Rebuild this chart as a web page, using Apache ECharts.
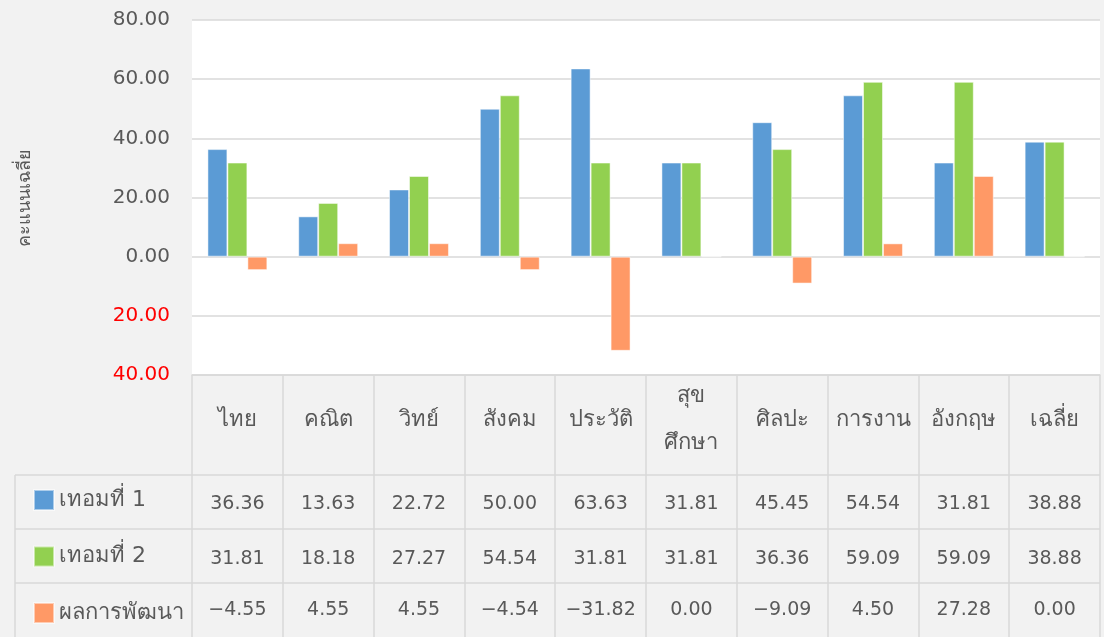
<!DOCTYPE html>
<html>
<head>
<meta charset="utf-8">
<title>คะแนนเฉลี่ย</title>
<script src="https://cdn.jsdelivr.net/npm/echarts@6/dist/echarts.min.js"></script>
<style>
  html, body { margin: 0; padding: 0; background: #f2f2f2; }
  #chart { width: 1104px; height: 637px; }
</style>
</head>
<body>
<div id="chart"></div>
<script>
// Subjects (column headers of the data table)
const categories = ['ไทย', 'คณิต', 'วิทย์', 'สังคม', 'ประวัติ', 'สุข\nศึกษา', 'ศิลปะ', 'การงาน', 'อังกฤษ', 'เฉลี่ย'];
const seriesNames = ['เทอมที่ 1', 'เทอมที่ 2', 'ผลการพัฒนา'];
const term1 = [36.36, 13.63, 22.72, 50.00, 63.63, 31.81, 45.45, 54.54, 31.81, 38.88];
const term2 = [31.81, 18.18, 27.27, 54.54, 31.81, 31.81, 36.36, 59.09, 59.09, 38.88];
const progress = [-4.55, 4.55, 4.55, -4.54, -31.82, 0.00, -9.09, 4.50, 27.28, 0.00];
const yTicks = { min: -40, max: 80, interval: 20 };

const colors = ['#5b9bd5', '#92d050', '#ff9966'];
const textColor = '#595959';
const lineColor = '#d9d9d9';
const font = 'Tahoma, "DejaVu Sans", "Noto Sans", sans-serif';

// Layout of plot area and table rows
const gridLeft = 192, gridRight = 4, gridTop = 20, gridBottom = 262;
const W = 1104, H = 637;
const rowLines = [475, 529, 583];          // horizontal rules of the value rows
const legendLeft = 15;

function fmtCell(v) {
  return (v < 0 ? '\u2212' : '') + Math.abs(v).toFixed(2);
}

// One category axis per table row, each only drawing its labels
function rowAxis(values, margin) {
  return {
    type: 'category',
    data: categories,
    position: 'bottom',
    axisLine: { show: false },
    axisTick: { show: false },
    axisLabel: {
      interval: 0,
      margin: margin,
      verticalAlign: 'middle',
      color: textColor,
      fontFamily: font,
      fontSize: 19,
      formatter: (val, idx) => fmtCell(values[idx])
    }
  };
}

const chart = echarts.init(document.getElementById('chart'), null, { renderer: 'canvas' });

const graphics = [];
rowLines.forEach(y => {
  graphics.push({
    type: 'line', silent: true, z: 5,
    shape: { x1: legendLeft, y1: y, x2: W - gridRight, y2: y },
    style: { stroke: lineColor, lineWidth: 1.5 }
  });
});
graphics.push({
  type: 'line', silent: true, z: 5,
  shape: { x1: legendLeft, y1: rowLines[0], x2: legendLeft, y2: H },
  style: { stroke: lineColor, lineWidth: 1.5 }
});

const barStyle = { borderColor: 'rgba(255,255,255,0.5)', borderWidth: 1 };

chart.setOption({
  backgroundColor: '#f2f2f2',
  animation: false,
  color: colors,
  grid: {
    left: gridLeft, right: gridRight, top: gridTop, bottom: gridBottom,
    show: true, backgroundColor: '#ffffff', borderWidth: 0
  },
  legend: {
    data: seriesNames,
    orient: 'vertical',
    left: 28,
    top: 484,
    itemWidth: 20,
    itemHeight: 20,
    itemGap: 34.5,
    icon: 'rect',
    textStyle: { color: textColor, fontFamily: font, fontSize: 22 },
    selectedMode: false
  },
  xAxis: [
    {
      type: 'category',
      data: categories,
      position: 'bottom',
      axisLine: { show: true, onZero: false, lineStyle: { color: lineColor, width: 1.5 } },
      axisTick: { show: true, length: gridBottom, lineStyle: { color: lineColor, width: 1.5 } },
      axisLabel: {
        interval: 0,
        margin: 45,
        verticalAlign: 'middle',
        color: textColor,
        fontFamily: font,
        fontSize: 22,
        lineHeight: 47
      }
    },
    rowAxis(term1, 129),
    rowAxis(term2, 184),
    rowAxis(progress, 235)
  ],
  yAxis: {
    type: 'value',
    min: yTicks.min,
    max: yTicks.max,
    interval: yTicks.interval,
    name: 'คะแนนเฉลี่ย',
    nameLocation: 'middle',
    nameRotate: 90,
    nameGap: 158,
    nameTextStyle: { color: textColor, fontFamily: font, fontSize: 18 },
    axisLine: { show: false },
    axisTick: { show: false },
    axisLabel: {
      margin: 22,
      fontFamily: font,
      fontSize: 20,
      color: v => (v < 0 ? '#ff0000' : textColor),
      formatter: v => Math.abs(v).toFixed(2)
    },
    splitLine: { lineStyle: { color: lineColor, width: 1.5 } }
  },
  series: [
    { name: seriesNames[0], type: 'bar', data: term1, barGap: 0, barCategoryGap: '34%', itemStyle: barStyle },
    { name: seriesNames[1], type: 'bar', data: term2, barGap: 0, barCategoryGap: '34%', itemStyle: barStyle },
    { name: seriesNames[2], type: 'bar', data: progress, barGap: 0, barCategoryGap: '34%', itemStyle: barStyle }
  ],
  graphic: graphics
});
</script>
</body>
</html>
